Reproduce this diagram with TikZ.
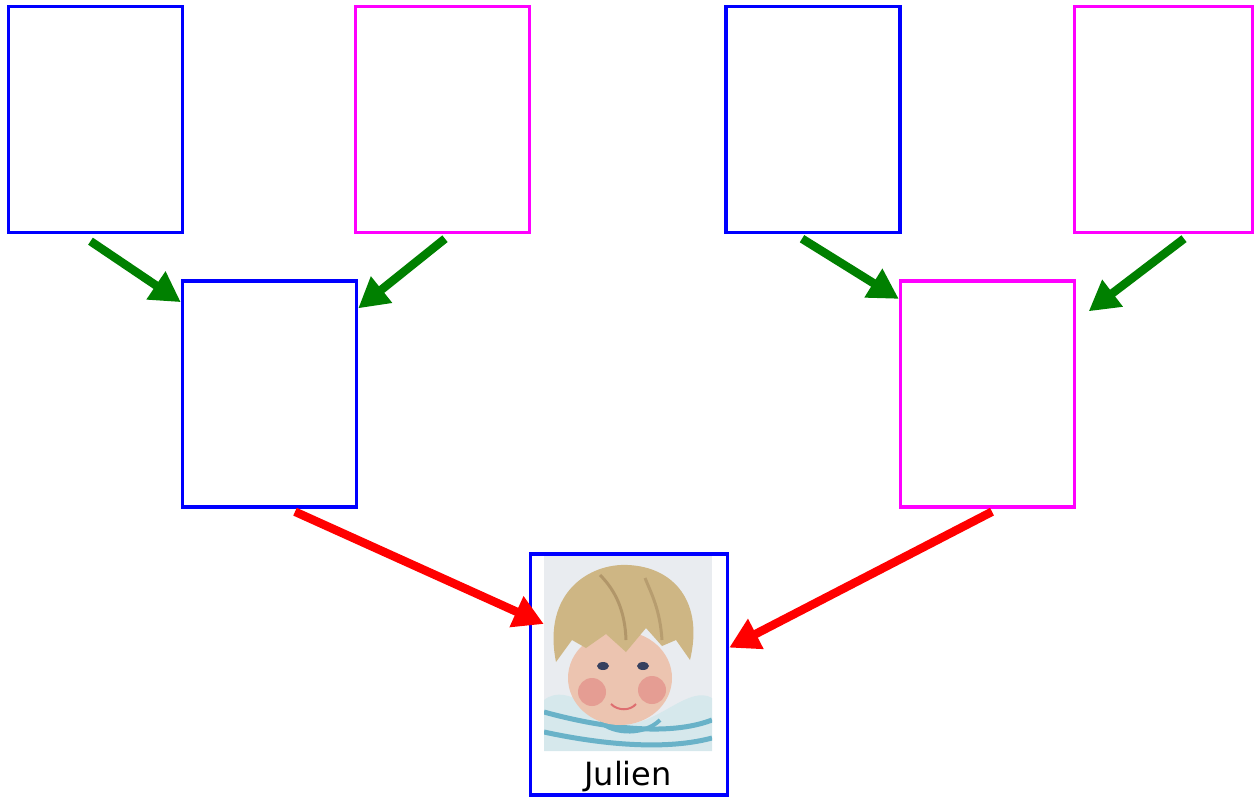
\documentclass[tikz,border=0pt]{standalone}
\usepackage{fontspec}
\usetikzlibrary{arrows.meta}
\newfontfamily\namefont{DejaVu Sans}
\definecolor{boxblue}{RGB}{0,0,255}
\definecolor{boxmagenta}{RGB}{255,0,255}
\definecolor{arrowgreen}{RGB}{0,128,0}
\definecolor{arrowred}{RGB}{255,0,0}
\definecolor{wallgray}{RGB}{233,236,240}
\definecolor{shirtwhite}{RGB}{214,232,236}
\definecolor{shirtblue}{RGB}{105,178,200}
\definecolor{skin}{RGB}{236,196,176}
\definecolor{cheek}{RGB}{222,110,112}
\definecolor{hairblond}{RGB}{206,182,132}
\definecolor{hairdark}{RGB}{150,120,80}
\definecolor{eyeblue}{RGB}{55,65,95}
\begin{document}
\begin{tikzpicture}[x=1pt, y=-1pt,
  father box/.style={rectangle,draw=boxblue,line width=3.4pt,minimum width=174pt,minimum height=226pt,inner sep=0pt},
  mother box/.style={rectangle,draw=boxmagenta,line width=3.4pt,minimum width=174pt,minimum height=226pt,inner sep=0pt},
  green arrow/.style={draw=arrowgreen,line width=8.5pt,-{Triangle[length=30pt,width=32pt]}},
  red arrow/.style={draw=arrowred,line width=8.5pt,-{Triangle[length=30pt,width=32pt]}}]
\useasboundingbox (0,0) rectangle (1257,796);
% grand-parents
\node[father box] (gp1) at (95.5,119.5) {};
\node[mother box] (gm1) at (442.5,119.5) {};
\node[father box] (gp2) at (813,119.5) {};
\node[mother box, minimum width=178pt] (gm2) at (1163.5,119.5) {};
% parents
\node[father box] (p1) at (269.5,394) {};
\node[mother box] (p2) at (987.5,394) {};
% child
\node[rectangle,fill=wallgray,minimum width=168pt,minimum height=196pt,inner sep=0pt] (photo) at (628,653) {};
\begin{scope}
\clip (544,555) rectangle (712,751);
\fill[shirtwhite] (544,700) .. controls (570,680) and (600,722) .. (628,724) .. controls (660,722) and (690,685) .. (712,698) -- (712,751) -- (544,751) -- cycle;
\draw[shirtblue,line width=5pt] (544,712) .. controls (580,722) and (660,740) .. (712,720);
\draw[shirtblue,line width=5pt] (544,732) .. controls (590,742) and (660,752) .. (712,738);
\draw[shirtblue,line width=4pt] (600,722) .. controls (615,735) and (645,735) .. (660,720);
\fill[skin] (620,678) ellipse (52 and 47);
\fill[cheek,opacity=.45] (592,692) circle (14);
\fill[cheek,opacity=.45] (652,690) circle (14);
\fill[hairblond] (556,662) .. controls (542,592) and (590,563) .. (628,565) .. controls (674,567) and (704,602) .. (690,660) -- (676,640) -- (662,646) -- (646,628) -- (626,652) -- (606,634) -- (586,648) -- (572,640) -- cycle;
\draw[hairdark,line width=3pt,opacity=.5] (600,575) .. controls (615,590) and (625,610) .. (626,640);
\draw[hairdark,line width=3pt,opacity=.4] (645,578) .. controls (652,595) and (660,610) .. (662,640);
\fill[eyeblue] (603,666) ellipse (6 and 4);
\fill[eyeblue] (643,666) ellipse (6 and 4);
\draw[cheek,line width=2pt] (611,704) .. controls (618,711) and (630,711) .. (636,704);
\end{scope}
\node[rectangle,draw=boxblue,line width=3.4pt,minimum width=197pt,minimum height=241pt,inner sep=0pt] (kid) at (629,674.5) {};
\node[anchor=base,inner sep=0pt] (kidname) at (628,785) {\namefont\fontsize{32}{32}\selectfont Julien};
% arrows
\draw[green arrow] ([shift={(-5,7)}]gp1.south) -- (p1.134);
\draw[green arrow] ([shift={(2.5,4.5)}]gm1.south) -- (p1.44);
\draw[green arrow] ([shift={(-11,4.5)}]gp2.south) -- (p2.133);
\draw[green arrow] ([shift={(20.5,4.5)}]gm2.south) -- ([xshift=12.5pt]p2.43);
\draw[red arrow] ([shift={(25.5,3)}]p1.south) -- (photo.161);
\draw[red arrow] ([shift={(4.5,3)}]p2.south) -- (kid.15.6);
\end{tikzpicture}
\end{document}
